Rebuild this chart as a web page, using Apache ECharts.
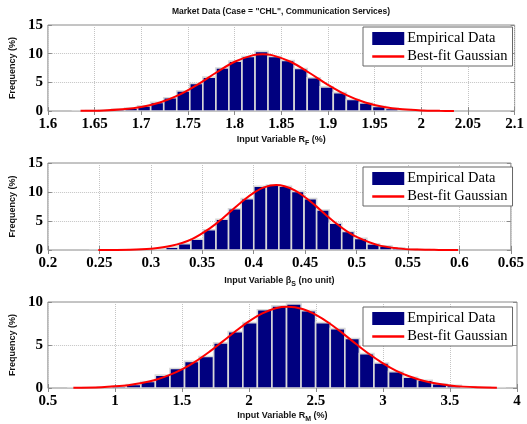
<!DOCTYPE html>
<html><head><meta charset="utf-8">
<script src="https://cdn.jsdelivr.net/npm/echarts@6/dist/echarts.min.js"></script>
<style>html,body{margin:0;padding:0;background:#fff}#c{width:527px;height:424px}</style>
</head><body><div id="c"></div>
<script>
// ---------- data ----------
const titleText = 'Market Data (Case = "CHL", Communication Services)';
const seriesNames = ['Empirical Data', 'Best-fit Gaussian'];

// Plot 1 : R_F (%)
const rfBinWidth = 0.01397;
const rfCenters = [1.6333, 1.6473, 1.6612, 1.6752, 1.6892, 1.7031, 1.7171, 1.7311, 1.7450, 1.7590,
  1.7730, 1.7870, 1.8009, 1.8149, 1.8289, 1.8428, 1.8568, 1.8708, 1.8848, 1.8987,
  1.9127, 1.9267, 1.9406, 1.9546, 1.9686, 1.9825, 1.9965, 2.0105, 2.0245];
const rfFreq = [0.04, 0.08, 0.15, 0.3, 0.5, 0.9, 1.5, 2.3, 3.5, 4.8,
  5.9, 7.5, 8.7, 9.5, 10.4, 9.5, 8.8, 7.4, 5.8, 4.2,
  3.2, 2.0, 1.4, 0.8, 0.45, 0.25, 0.12, 0.06, 0.03];
const rfFitX = [1.635, 1.66, 1.68, 1.70, 1.72, 1.74, 1.76, 1.78, 1.80, 1.82, 1.83, 1.84, 1.86, 1.88, 1.90, 1.92, 1.94, 1.96, 1.98, 2.00, 2.02, 2.035];
const rfFitY = [0.03, 0.1, 0.29, 0.69, 1.47, 2.76, 4.57, 6.67, 8.59, 9.74, 9.9, 9.74, 8.59, 6.67, 4.57, 2.76, 1.47, 0.69, 0.29, 0.1, 0.03, 0.015];

// Plot 2 : beta_S (no unit)
const bsBinWidth = 0.01222;
const bsCenters = [0.2473, 0.2595, 0.2718, 0.2840, 0.2962, 0.3084, 0.3206, 0.3329, 0.3451, 0.3573,
  0.3695, 0.3817, 0.3940, 0.4062, 0.4184, 0.4306, 0.4428, 0.4551, 0.4673, 0.4795,
  0.4917, 0.5039, 0.5162, 0.5284, 0.5406, 0.5528, 0.5650, 0.5773, 0.5895];
const bsFreq = [0.01, 0.02, 0.03, 0.06, 0.1, 0.2, 0.5, 1.1, 1.85, 3.5,
  5.3, 7.1, 8.85, 11.0, 11.2, 11.0, 10.1, 8.85, 6.9, 4.6,
  3.2, 2.0, 1.05, 0.7, 0.4, 0.15, 0.08, 0.03, 0.01];
const bsFitX = [0.249, 0.28, 0.30, 0.32, 0.34, 0.36, 0.37, 0.38, 0.39, 0.40, 0.41, 0.422, 0.43, 0.44, 0.45, 0.46, 0.47, 0.48, 0.49, 0.50, 0.52, 0.54, 0.56, 0.58, 0.5986];
const bsFitY = [0.01, 0.05, 0.22, 0.72, 1.89, 4.06, 5.49, 7.03, 8.55, 9.85, 10.8, 11.2, 11.0, 10.28, 9.1, 7.65, 6.09, 4.6, 3.3, 2.25, 0.88, 0.28, 0.07, 0.015, 0.003];

// Plot 3 : R_M (%)
const rmBinWidth = 0.1087;
const rmCenters = [0.704, 0.813, 0.921, 1.030, 1.139, 1.248, 1.356, 1.465, 1.574, 1.682,
  1.791, 1.900, 2.009, 2.117, 2.226, 2.335, 2.443, 2.552, 2.661, 2.770,
  2.878, 2.987, 3.096, 3.204, 3.313, 3.422, 3.530, 3.639, 3.748, 3.857];
const rmFreq = [0.03, 0.05, 0.1, 0.2, 0.4, 0.75, 1.5, 2.26, 3.1, 3.66,
  5.25, 6.55, 7.6, 9.1, 9.55, 9.77, 9.0, 7.6, 6.9, 5.75,
  4.0, 2.9, 1.9, 1.25, 0.9, 0.5, 0.3, 0.15, 0.08, 0.03];
const rmFitX = [0.69, 0.9, 1.0, 1.1, 1.2, 1.3, 1.4, 1.5, 1.6, 1.7, 1.8, 1.9, 2.0, 2.1, 2.2, 2.29, 2.4, 2.5, 2.6, 2.7, 2.8, 2.9, 3.0, 3.1, 3.2, 3.3, 3.4, 3.5, 3.6, 3.7, 3.85];
const rmFitY = [0.02, 0.1, 0.19, 0.33, 0.57, 0.93, 1.46, 2.16, 3.07, 4.16, 5.36, 6.6, 7.75, 8.68, 9.28, 9.45, 9.18, 8.5, 7.53, 6.35, 5.11, 3.92, 2.87, 2.0, 1.34, 0.85, 0.52, 0.3, 0.16, 0.086, 0.03];

// axis settings (ticks)
const xMins = [1.6, 0.2, 0.5];
const xMaxs = [2.1, 0.65, 4];
const xSteps = [0.05, 0.05, 0.5];
const yMaxs = [15, 15, 10];
const ySteps = [5, 5, 5];
const xNames = ['{a|Input Variable R}{b|F}{a| (%)}', '{a|Input Variable β}{b|S}{a| (no unit)}', '{a|Input Variable R}{b|M}{a| (%)}'];
const yName = 'Frequency (%)';

// ---------- chart ----------
const plots = [
  {c: rfCenters, f: rfFreq, w: rfBinWidth, fx: rfFitX, fy: rfFitY},
  {c: bsCenters, f: bsFreq, w: bsBinWidth, fx: bsFitX, fy: bsFitY},
  {c: rmCenters, f: rmFreq, w: rmBinWidth, fx: rmFitX, fy: rmFitY}
];
const gridTops = [25, 163, 302];
const gridHeights = [86, 87, 88];
const nameGaps = [22, 24, 21];
const legendTops = [27, 167, 307];
const frame = '#8a8a8a';
const serif = 'Liberation Serif';
const sans = 'Liberation Sans';

function makeRender(w) {
  return function (params, api) {
    const x = api.value(0), y = api.value(1);
    const p0 = api.coord([x - w / 2, y]);
    const p1 = api.coord([x + w / 2, 0]);
    return {
      type: 'rect',
      shape: {x: p0[0], y: p0[1], width: p1[0] - p0[0], height: p1[1] - p0[1]},
      style: {fill: '#00007f', stroke: '#d8d8d8', lineWidth: 1.6}
    };
  };
}

const grids = [], xAxes = [], yAxes = [], series = [], legends = [];
plots.forEach((p, i) => {
  grids.push({left: 41, width: 476, top: gridTops[i], height: gridHeights[i], show: true,
    borderColor: frame, borderWidth: 1, backgroundColor: 'transparent'});
  const tickStyle = {show: true, inside: true, length: 4, lineStyle: {color: frame}};
  xAxes.push({type: 'value', gridIndex: i, position: 'bottom', min: xMins[i], max: xMaxs[i], interval: xSteps[i],
    axisLine: {show: false}, axisTick: tickStyle,
    axisLabel: {fontFamily: serif, fontWeight: 'bold', fontSize: 15, color: '#000', margin: 6, showMinLabel: true, showMaxLabel: true},
    splitLine: {show: true, lineStyle: {type: 'dotted', color: '#c4c4c4'}},
    name: xNames[i], nameLocation: 'middle', nameGap: nameGaps[i],
    nameTextStyle: {rich: {
      a: {fontFamily: sans, fontWeight: 'bold', fontSize: 9, color: '#111'},
      b: {fontFamily: sans, fontWeight: 'bold', fontSize: 7, color: '#111', padding: [7, 0, 0, 0]}
    }}
  });
  xAxes.push({type: 'value', gridIndex: i, position: 'top', min: xMins[i], max: xMaxs[i], interval: xSteps[i],
    axisLine: {show: false}, axisTick: tickStyle, axisLabel: {show: false}, splitLine: {show: false}});
  yAxes.push({type: 'value', gridIndex: i, position: 'left', min: 0, max: yMaxs[i], interval: ySteps[i],
    axisLine: {show: false}, axisTick: tickStyle,
    axisLabel: {fontFamily: serif, fontWeight: 'bold', fontSize: 15, color: '#000', margin: 5},
    splitLine: {show: true, lineStyle: {type: 'dotted', color: '#c4c4c4'}},
    name: yName, nameLocation: 'middle', nameGap: 23, nameRotate: 90,
    nameTextStyle: {fontFamily: sans, fontWeight: 'bold', fontSize: 9, color: '#111'}
  });
  yAxes.push({type: 'value', gridIndex: i, position: 'right', min: 0, max: yMaxs[i], interval: ySteps[i],
    axisLine: {show: false}, axisTick: tickStyle, axisLabel: {show: false}, splitLine: {show: false}});

  series.push({
    type: 'custom', name: seriesNames[0], xAxisIndex: 2 * i, yAxisIndex: 2 * i,
    renderItem: makeRender(p.w), itemStyle: {color: '#00007f'},
    encode: {x: 0, y: 1}, clip: true, z: 2,
    data: p.c.map((c, j) => [c, p.f[j]])
  });
  series.push({
    type: 'line', name: seriesNames[1], xAxisIndex: 2 * i, yAxisIndex: 2 * i,
    smooth: 0.35, symbol: 'none', showSymbol: false, z: 5,
    lineStyle: {color: '#ff0000', width: 2}, itemStyle: {color: '#ff0000'},
    data: p.fx.map((x, j) => [x, p.fy[j]])
  });
  legends.push({
    orient: 'vertical', left: 363, top: legendTops[i], selectedMode: false,
    backgroundColor: '#fff', borderColor: '#666', borderWidth: 1,
    padding: [4, 5, 2, 8], itemGap: 3, itemWidth: 32, itemHeight: 13,
    textStyle: {fontFamily: serif, fontSize: 14.5, color: '#000', padding: [0, 0, 0, -2]},
    data: [
      {name: seriesNames[0], icon: 'rect', itemStyle: {borderWidth: 0}},
      {name: seriesNames[1], itemStyle: {opacity: 0}, lineStyle: {color: '#ff0000', width: 2.5, opacity: 1}}
    ]
  });
});

const chart = echarts.init(document.getElementById('c'), null, {renderer: 'canvas'});
chart.setOption({
  animation: false,
  backgroundColor: '#fff',
  title: {text: titleText, left: 172, top: 7, padding: 0,
    textStyle: {fontFamily: sans, fontWeight: 'bold', fontSize: 8.5, color: '#111'}},
  grid: grids, xAxis: xAxes, yAxis: yAxes, legend: legends, series: series
});
</script></body></html>
